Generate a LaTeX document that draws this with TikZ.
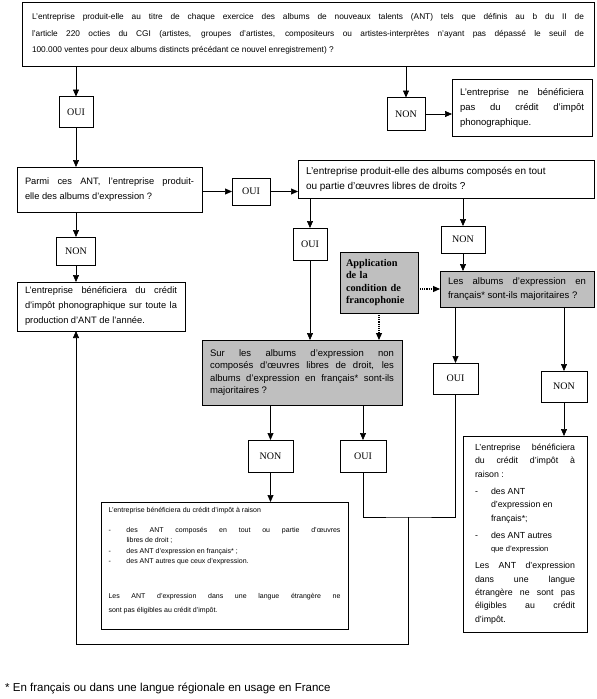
\documentclass[tikz,border=0pt]{standalone}
\usepackage{fontspec}
\setmainfont{Liberation Sans}
\newfontfamily\serifface{Liberation Serif}
\usetikzlibrary{arrows.meta}
\tolerance=10000
\hbadness=10000
\newcommand{\tiret}[1][16pt]{\par\noindent\hangindent=#1\hangafter=1\makebox[#1][l]{-}\ignorespaces}

\begin{document}
\begin{tikzpicture}[x=1pt,y=-1pt,>={Triangle[length=7pt,width=6pt]},
  box/.style={draw,line width=0.9pt,anchor=north west,inner xsep=8pt,inner ysep=0pt,outer sep=0pt,align=justify,font=\fontsize{9.5}{15}\selectfont},
  greybox/.style={box,fill=black!25},
  answer/.style={draw,line width=0.9pt,inner sep=0pt,outer sep=0pt,font=\serifface\fontsize{10}{12}\selectfont},
  link/.style={line width=0.7pt},
  hint/.style={line width=1.1pt,densely dotted}]
\useasboundingbox[fill=white] (0,0) rectangle (597,699);
\node[box,inner xsep=10pt,text width=552pt,minimum height=64pt,font=\fontsize{8.3}{16.5}\selectfont] (qant) at (22,2) {L'entreprise produit-elle au titre de chaque exercice des albums de nouveaux talents (ANT) tels que définis au b du II de\linebreak l'article 220 octies du CGI (artistes, groupes d'artistes, compositeurs ou artistes-interprètes n'ayant pas dépassé le seuil de\linebreak 100.000 ventes pour deux albums distincts précédant ce nouvel enregistrement) ?};
\node[answer,minimum width=34pt,minimum height=31pt] (oui1) at (76,112) {OUI};
\node[answer,minimum width=38pt,minimum height=33pt] (non1) at (406,114) {NON};
\node[box,text width=124pt,minimum height=57pt] (nocredit) at (452,79) {L'entreprise ne bénéficiera\linebreak pas du crédit d'impôt\linebreak phonographique.};
\node[box,text width=169pt,minimum height=45pt,font=\fontsize{9.3}{15}\selectfont] (expr) at (17,167) {Parmi ces ANT, l'entreprise produit-\linebreak elle des albums d'expression ?};
\node[answer,minimum width=38pt,minimum height=27pt] (oui2) at (251,191.5) {OUI};
\node[box,text width=280pt,minimum height=38pt,font=\fontsize{10}{15}\selectfont] (libre) at (298,160) {L'entreprise produit-elle des albums composés en tout\newline ou partie d'œuvres libres de droits ?};
\node[answer,minimum width=39pt,minimum height=28pt] (non2) at (76,251) {NON};
\node[box,text width=152pt,minimum height=49pt,font=\fontsize{9.3}{15}\selectfont] (whole) at (17,282) {L'entreprise bénéficiera du crédit\linebreak d'impôt phonographique sur toute la\linebreak production d'ANT de l'année.};
\node[answer,minimum width=34pt,minimum height=32pt] (oui3) at (310,244) {OUI};
\node[answer,minimum width=44pt,minimum height=27pt] (non3) at (463,239.5) {NON};
\node[greybox,inner xsep=6pt,text width=66pt,minimum height=61pt,align=left,font=\serifface\bfseries\fontsize{10.3}{12.3}\selectfont] (franco) at (340,252) {Application\\ de la\\ condition de\\ francophonie};
\node[greybox,text width=138pt,minimum height=36pt,font=\fontsize{9.5}{13.5}\selectfont] (fr) at (440,271) {Les albums d'expression en\linebreak français* sont-ils majoritaires ?};
\node[greybox,text width=184pt,minimum height=65pt,font=\fontsize{9.5}{12.6}\selectfont] (frnl) at (202,340) {Sur les albums d'expression non\linebreak composés d'œuvres libres de droit, les\linebreak albums d'expression en français* sont-ils\linebreak majoritaires ?};
\node[answer,minimum width=45pt,minimum height=31pt] (oui4) at (455.5,378.5) {OUI};
\node[answer,minimum width=46pt,minimum height=31pt] (non4) at (564,386.5) {NON};
\node[answer,minimum width=45pt,minimum height=32pt] (non5) at (270.5,456) {NON};
\node[answer,minimum width=46pt,minimum height=32pt] (oui5) at (363,456) {OUI};
\node[box,inner xsep=12pt,text width=100pt,minimum height=196pt,font=\fontsize{8.8}{13.3}\selectfont] (partial) at (463,436) {L'entreprise bénéficiera\linebreak du crédit d'impôt à\linebreak raison :\par\vspace{4pt}
{\raggedright\tiret des ANT\newline d'expression en\newline français*;\par\vspace{4pt}
\tiret des ANT autres\newline{\fontsize{7.6}{13.3}\selectfont que d'expression}\par}\vspace{4pt}
Les ANT d'expression\linebreak dans une langue\linebreak étrangère ne sont pas\linebreak éligibles au crédit\linebreak d'impôt.};
\node[box,inner xsep=7.5pt,text width=232pt,minimum height=127pt,font=\fontsize{7}{10.5}\selectfont] (full) at (101,502) {L'entreprise bénéficiera du crédit d'impôt à raison\par\vspace{9pt}
\tiret[18pt] des ANT composés en tout ou partie d'œuvres\linebreak libres de droit ;
\tiret[18pt] des ANT d'expression en français* ;
\tiret[18pt] des ANT autres que ceux d'expression.\par\vspace{21pt}
{\fontsize{7}{14}\selectfont Les ANT d'expression dans une langue étrangère ne\linebreak sont pas éligibles au crédit d'impôt.\par}\mbox{}};
\node[anchor=west,inner sep=0pt,font=\fontsize{11.5}{14}\selectfont] (note) at (5,688) {* En français ou dans une langue régionale en usage en France};
\coordinate (merge) at (408,517);
\coordinate (back) at (408,644);
\draw[link,->] (qant.south -| oui1) -- (oui1);
\draw[link,->] (oui1) -- (oui1 |- expr.north);
\draw[link,->] (qant.south -| non1) -- (non1);
\draw[link,->] (non1) -- (non1 -| nocredit.west);
\draw[link,->] (expr.east |- oui2) -- (oui2);
\draw[link,->] (oui2) -- (oui2 -| libre.west);
\draw[link,->] (expr.south -| non2) -- (non2);
\draw[link,->] (non2) -- (non2 |- whole.north);
\draw[link,->] (libre.south -| oui3) -- (oui3);
\draw[link,->] (libre.south -| non3) -- (non3);
\draw[link,->] (oui3) -- (oui3 |- frnl.north);
\draw[link,->] (non3) -- (non3 |- fr.north);
\draw[hint,->] (franco.east |- fr.west) -- (fr.west);
\draw[hint,->] (franco) -- (franco |- frnl.north);
\draw[link,->] (fr.south -| oui4) -- (oui4);
\draw[link,->] (fr.south -| non4) -- (non4);
\draw[link,->] (non4) -- (non4 |- partial.north);
\draw[link,->] (frnl.south -| non5) -- (non5);
\draw[link,->] (frnl.south -| oui5) -- (oui5);
\draw[link,->] (non5) -- (non5 |- full.north);
\draw[link] (oui5) |- (merge) -| (oui4);
\draw[link,->] (merge) -- (back) -| (oui1 |- whole.south);
\end{tikzpicture}
\end{document}
